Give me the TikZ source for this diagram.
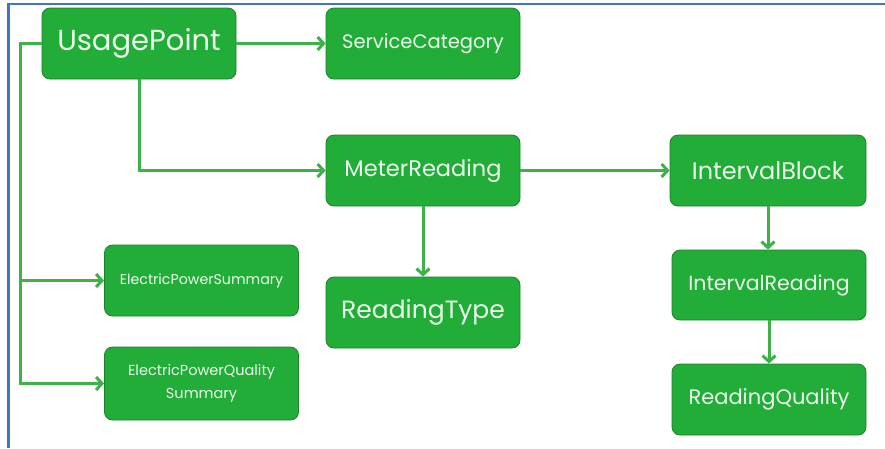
\documentclass[tikz,border=0pt]{standalone}
\usepackage{fontspec}
\setmainfont{Poppins}
\usetikzlibrary{arrows.meta}
\definecolor{boxgreen}{RGB}{34,172,56}
\definecolor{boxedge}{RGB}{28,130,44}
\definecolor{linkgreen}{RGB}{62,178,72}
\definecolor{boxtext}{RGB}{236,252,236}
\definecolor{frameblue}{RGB}{68,114,196}
\tikzset{
  entity/.style={draw=boxedge, line width=0.8pt, fill=boxgreen, rounded corners=8pt,
    minimum width=194pt, minimum height=71pt, text=boxtext, align=center, inner sep=2pt},
  link/.style={draw=linkgreen, line width=3pt, line join=miter},
  linkarrow/.style={link, -{Straight Barb[length=6pt,width=13pt,line width=3pt]}}
}
\begin{document}
\begin{tikzpicture}[x=1pt,y=-1pt]
  \useasboundingbox (0,0) rectangle (885,448);
  \fill[white] (0,0) rectangle (885,448);
  % frame lines along the top and left edges
  \draw[frameblue, line width=2.2pt] (7.5,4) -- (885,4);
  \draw[frameblue, line width=2.2pt] (8.5,3) -- (8.5,448);

  % entities
  \node[entity, font=\fontsize{29}{32}\selectfont] (up) at (139,43.5) {UsagePoint};
  \node[entity, font=\fontsize{19.5}{22}\selectfont] (sc) at (423,43.5) {ServiceCategory};
  \node[entity, font=\fontsize{22.5}{25}\selectfont] (mr) at (423,170.5) {MeterReading};
  \node[entity, font=\fontsize{25}{28}\selectfont] (rt) at (423,312.5) {ReadingType};
  \node[entity, minimum width=196pt, font=\fontsize{24}{27}\selectfont] (ib) at (768,170.5) {IntervalBlock};
  \node[entity, minimum height=70pt, font=\fontsize{20.5}{23}\selectfont] (ir) at (769,285) {IntervalReading};
  \node[entity, font=\fontsize{21}{24}\selectfont] (rq) at (769,399.5) {ReadingQuality};
  \node[entity, font=\fontsize{14.2}{17}\selectfont] (eps) at (201.5,280.5) {ElectricPowerSummary};
  \node[entity, minimum height=73pt, font=\fontsize{14.5}{23}\selectfont] (epq) at (201.5,383.5) {ElectricPowerQuality\\Summary};

  % connectors
  \coordinate (trunk) at (20,44);
  \draw[linkarrow] (up.west) -- (up.west -| trunk) |- (epq.west);
  \draw[linkarrow] (trunk |- eps.west) -- (eps.west);
  \draw[linkarrow] (up.east) -- (sc.west);
  \draw[linkarrow] (up.south) |- (mr.west);
  \draw[linkarrow] (mr.east) -- (ib.west);
  \draw[linkarrow] (mr.south) -- (rt.north);
  \draw[linkarrow] (ib.south) -- (ib.south |- ir.north);
  \draw[linkarrow] (ir.south) -- (rq.north);
\end{tikzpicture}
\end{document}
